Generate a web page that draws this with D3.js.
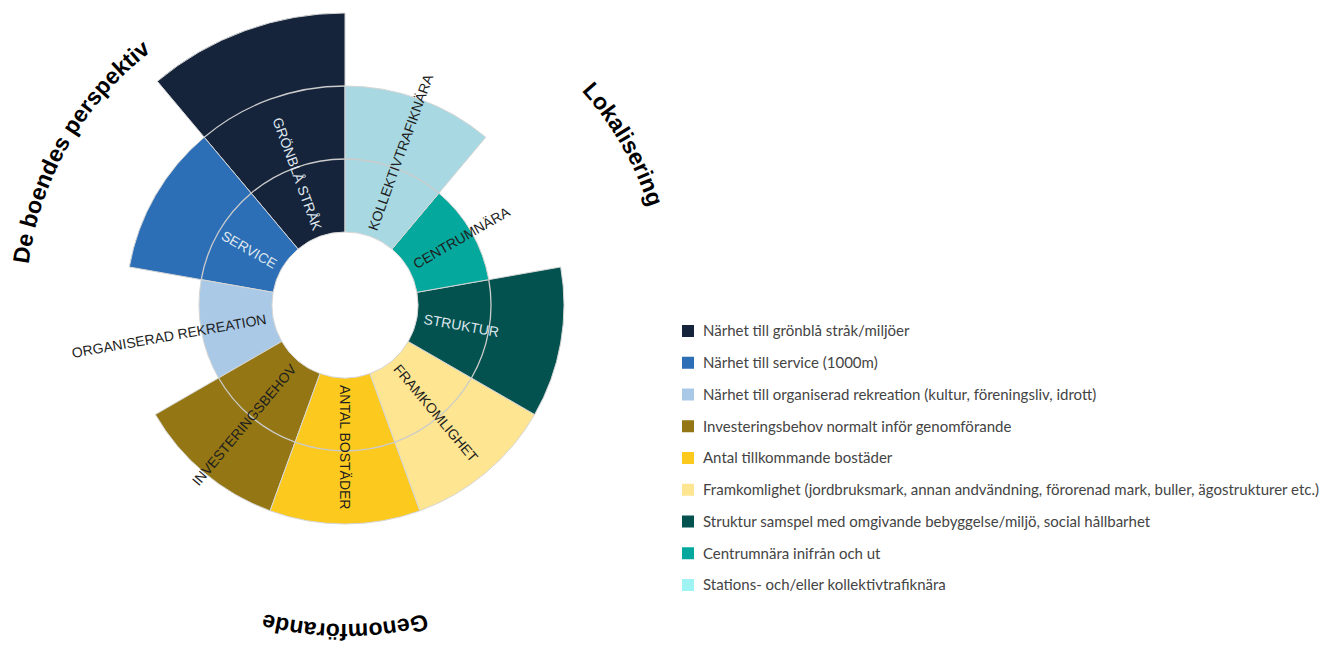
<!DOCTYPE html>
<html lang="sv">
<head>
<meta charset="utf-8">
<script src="https://cdn.jsdelivr.net/npm/d3@7"></script>
<style>
  html, body { margin: 0; padding: 0; background: #ffffff; }
  svg { display: block; }
</style>
</head>
<body>
<svg id="chart" width="1336" height="651"></svg>
<script>
// Criteria, listed counter-clockwise from twelve o'clock
const criteria = [
  "Närhet till grönblå stråk/miljöer",
  "Närhet till service (1000m)",
  "Närhet till organiserad rekreation (kultur, föreningsliv, idrott)",
  "Investeringsbehov normalt inför genomförande",
  "Antal tillkommande bostäder",
  "Framkomlighet (jordbruksmark, annan andvändning, förorenad mark, buller, ägostrukturer etc.)",
  "Struktur samspel med omgivande bebyggelse/miljö, social hållbarhet",
  "Centrumnära inifrån och ut",
  "Stations- och/eller kollektivtrafiknära"
];
const shortLabels = [
  "GRÖNBLÅ STRÅK", "SERVICE", "ORGANISERAD REKREATION",
  "INVESTERINGSBEHOV", "ANTAL BOSTÄDER", "FRAMKOMLIGHET",
  "STRUKTUR", "CENTRUMNÄRA", "KOLLEKTIVTRAFIKNÄRA"
];
const scores = [3, 2, 1, 2, 2, 2, 2, 1, 2];
const gridLevels = [1, 2];
const groupTitles = ["De boendes perspektiv", "Genomförande", "Lokalisering"];

const fills = ["#15233b", "#2c6fb7", "#a9c9e6", "#947714", "#fcc91f",
               "#fde592", "#03524f", "#05a89c", "#a8d8e1"];
const swatches = ["#15233b", "#2c6fb7", "#a9c9e6", "#947714", "#fcc91f",
                  "#fde592", "#03524f", "#05a89c", "#9ff3f2"];
const lightText = new Set(["GRÖNBLÅ STRÅK", "SERVICE", "STRUKTUR"]);

const svg = d3.select("#chart");
const cx = 345, cy = 305;
const innerR = 73;

const angle = d3.scaleBand().domain(shortLabels).range([2 * Math.PI, 0]).padding(0);
const radius = d3.scaleLinear().domain([0, 3]).range([innerR, 292]);

const g = svg.append("g").attr("transform", `translate(${cx},${cy})`);

const rows = shortLabels.map((label, i) => ({
  label, score: scores[i], fill: fills[i],
  a0: angle(label), a1: angle(label) + angle.bandwidth()
}));

// Wedges
const arc = d3.arc()
  .innerRadius(innerR)
  .outerRadius(d => radius(d.score))
  .startAngle(d => d.a0)
  .endAngle(d => d.a1);

g.selectAll("path.wedge").data(rows).join("path")
  .attr("class", "wedge")
  .attr("d", arc)
  .attr("fill", d => d.fill)
  .attr("stroke", "#d6d6d6")
  .attr("stroke-width", 1);

// Grid rings, drawn only inside each wedge
const ringSegments = rows.flatMap(d =>
  gridLevels.filter(l => l < d.score).map(l => ({ r: radius(l), a0: d.a0, a1: d.a1 })));
g.selectAll("path.ring").data(ringSegments).join("path")
  .attr("class", "ring")
  .attr("d", s => {
    const p = d3.path();
    p.arc(0, 0, s.r, s.a0 - Math.PI / 2, s.a1 - Math.PI / 2);
    return p.toString();
  })
  .attr("fill", "none")
  .attr("stroke", "#cbcbcb")
  .attr("stroke-width", 1.3);

// Radial wedge labels
const labelR = 80;
g.selectAll("text.wlabel").data(rows).join("text")
  .attr("class", "wlabel")
  .attr("transform", d => {
    const midDeg = ((d.a0 + d.a1) / 2) * 180 / Math.PI;
    const outward = midDeg <= 180.5;
    return `rotate(${midDeg - 90}) translate(${labelR},0)` + (outward ? "" : " rotate(180)");
  })
  .attr("text-anchor", d => (((d.a0 + d.a1) / 2) * 180 / Math.PI <= 180.5 ? "start" : "end"))
  .attr("dy", "0.35em")
  .attr("font-family", "'Liberation Sans', Arial, Helvetica, sans-serif")
  .attr("font-size", 14)
  .attr("fill", d => lightText.has(d.label) ? "#dfe6ee" : "#1e1e1e")
  .text(d => d.label);

// Group titles on a clockwise circle around the chart
const titleR = 319;
g.append("path")
  .attr("id", "titleCircle")
  .attr("fill", "none")
  .attr("d", `M0,${-titleR} A${titleR},${titleR} 0 1 1 0,${titleR} A${titleR},${titleR} 0 1 1 0,${-titleR}`);

const groups = groupTitles.map((title, k) => {
  const members = rows.slice(k * 3, k * 3 + 3);
  const mid = d3.mean(members, d => (d.a0 + d.a1) / 2);
  return { title, mid };
});

g.selectAll("text.gtitle").data(groups).join("text")
  .attr("class", "gtitle")
  .attr("font-family", "'Liberation Sans', Arial, Helvetica, sans-serif")
  .attr("font-weight", "bold")
  .attr("font-size", 23)
  .attr("fill", "#000")
  .append("textPath")
  .attr("href", "#titleCircle")
  .attr("startOffset", d => `${(d.mid / (2 * Math.PI)) * 100}%`)
  .attr("text-anchor", "middle")
  .text(d => d.title);

// Legend
const legend = svg.append("g").attr("transform", "translate(682,331)");
const rowStep = 31.75;
const item = legend.selectAll("g.item").data(criteria).join("g")
  .attr("class", "item")
  .attr("transform", (d, i) => `translate(0,${i * rowStep})`);
item.append("rect")
  .attr("x", 0).attr("y", -6)
  .attr("width", 12).attr("height", 12)
  .attr("fill", (d, i) => swatches[i]);
item.append("text")
  .attr("x", 21)
  .attr("dy", "0.35em")
  .attr("font-family", "Lato, 'Open Sans', sans-serif")
  .attr("font-size", 15)
  .attr("fill", "#444")
  .text(d => d);
</script>
</body>
</html>
